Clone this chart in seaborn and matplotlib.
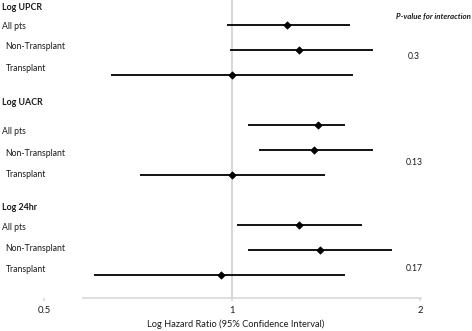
import numpy as np
import pandas as pd
import matplotlib
matplotlib.use('Agg')
import matplotlib.pyplot as plt
import matplotlib.transforms as mtransforms
import seaborn as sns

# forest plot values
groups = ['Log UPCR', 'Log UACR', 'Log 24hr']
subgroups = ['All pts', 'Non-Transplant', 'Transplant']
hr = [1.225, 1.28, 1.0, 1.373, 1.353, 1.0, 1.28, 1.383, 0.96]
ci_low = [0.982, 0.993, 0.640, 1.061, 1.105, 0.712, 1.019, 1.061, 0.601]
ci_high = [1.545, 1.68, 1.563, 1.517, 1.68, 1.409, 1.615, 1.804, 1.517]
p_values = ['0.3', '0.13', '0.17']

rows = []
for gi, g in enumerate(groups):
    for si, s in enumerate(subgroups):
        rows.append({'group': g, 'sub': s, 'row': gi * 4 + si + 1})
df = pd.DataFrame(rows)
df['hr'] = hr
df['lo'] = ci_low
df['hi'] = ci_high

# where the text labels sit (in row units), they are not aligned with the bars
header_pos = [0.3, 4.1, 8.3]
label_pos = [[1.06, 1.88, 2.76], [5.28, 6.16, 7.0], [9.12, 9.96, 10.8]]
pval_pos = [2.25, 6.52, 10.76]

sns.set_theme(style='white')
plt.rcParams['font.family'] = ['Lato', 'DejaVu Sans']

fig = plt.figure(figsize=(4.72, 3.31), dpi=100)
ax = fig.add_axes([0, 0.0997, 1, 0.9003])
ax.set_xscale('log')
ax.set_xlim(0.425, 2.423)
ax.set_ylim(11.92, 0)

ax.axvline(1, color='#d9d9d9', lw=1.5, zorder=0)
ax.hlines(df['row'], df['lo'], df['hi'], color='black', lw=1.3, zorder=2)
sns.scatterplot(data=df, x='hr', y='row', marker='D', color='black', s=14,
                edgecolor='black', linewidth=0.5, ax=ax, zorder=3, legend=False)

txt = '#1a1a1a'
trans = mtransforms.blended_transform_factory(fig.transFigure, ax.transData)
for gi, g in enumerate(groups):
    ax.text(0.005, header_pos[gi], g, transform=trans, fontsize=6.4,
            fontweight='bold', va='center', ha='left', color=txt)
    for si, s in enumerate(subgroups):
        xoff = 0.005 if si == 0 else 0.012
        ax.text(xoff, label_pos[gi][si], s, transform=trans, fontsize=6.2,
                va='center', ha='left', color=txt)
    ax.text(0.877, pval_pos[gi], p_values[gi], transform=trans, fontsize=6.2,
            va='center', ha='center', color=txt)
ax.text(0.998, 0.66, 'P-value for interaction', transform=trans, fontsize=5.7,
        fontweight='bold', style='italic', va='center', ha='right', color=txt)

ax.set_xticks([0.5, 1, 2])
ax.set_xticklabels(['0.5', '1', '2'])
ax.xaxis.set_minor_locator(matplotlib.ticker.NullLocator())
ax.tick_params(axis='x', length=2, color='#d9d9d9', labelsize=6.8, pad=4,
               labelcolor=txt, bottom=True)
ax.set_yticks([])
ax.set_xlabel('Log Hazard Ratio (95% Confidence Interval)', fontsize=6.7,
              color=txt, labelpad=3)
ax.set_ylabel('')
for side in ['top', 'left', 'right']:
    ax.spines[side].set_visible(False)
ax.spines['bottom'].set_color('#d9d9d9')
ax.spines['bottom'].set_linewidth(1.2)
ax.spines['bottom'].set_bounds(0.577, 2.01)
ax.patch.set_alpha(0)

fig.savefig('out.png', dpi=100)
